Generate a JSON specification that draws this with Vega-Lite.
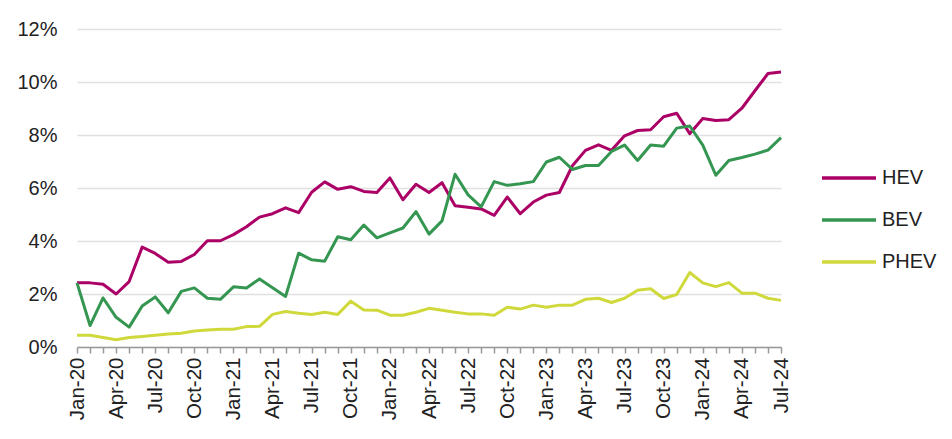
{
 "$schema": "https://vega.github.io/schema/vega-lite/v6.json",
 "width": 704,
 "height": 318,
 "autosize": "none",
 "padding": {"left": 77, "top": 29, "right": 171, "bottom": 92},
 "background": "white",
 "config": {"view": {"stroke": null}, "font": "Liberation Sans"},
 "datasets": {
  "shares": [
   {"m":"Jan-20","s":"HEV","v":2.42},{"m":"Feb-20","s":"HEV","v":2.42},{"m":"Mar-20","s":"HEV","v":2.37},{"m":"Apr-20","s":"HEV","v":2.0},{"m":"May-20","s":"HEV","v":2.47},{"m":"Jun-20","s":"HEV","v":3.77},{"m":"Jul-20","s":"HEV","v":3.53},{"m":"Aug-20","s":"HEV","v":3.2},{"m":"Sep-20","s":"HEV","v":3.23},{"m":"Oct-20","s":"HEV","v":3.49},{"m":"Nov-20","s":"HEV","v":4.01},{"m":"Dec-20","s":"HEV","v":4.01},
   {"m":"Jan-21","s":"HEV","v":4.24},{"m":"Feb-21","s":"HEV","v":4.54},{"m":"Mar-21","s":"HEV","v":4.9},{"m":"Apr-21","s":"HEV","v":5.03},{"m":"May-21","s":"HEV","v":5.25},{"m":"Jun-21","s":"HEV","v":5.07},{"m":"Jul-21","s":"HEV","v":5.84},{"m":"Aug-21","s":"HEV","v":6.23},{"m":"Sep-21","s":"HEV","v":5.95},{"m":"Oct-21","s":"HEV","v":6.05},{"m":"Nov-21","s":"HEV","v":5.87},{"m":"Dec-21","s":"HEV","v":5.83},
   {"m":"Jan-22","s":"HEV","v":6.38},{"m":"Feb-22","s":"HEV","v":5.56},{"m":"Mar-22","s":"HEV","v":6.14},{"m":"Apr-22","s":"HEV","v":5.83},{"m":"May-22","s":"HEV","v":6.2},{"m":"Jun-22","s":"HEV","v":5.33},{"m":"Jul-22","s":"HEV","v":5.27},{"m":"Aug-22","s":"HEV","v":5.21},{"m":"Sep-22","s":"HEV","v":4.97},{"m":"Oct-22","s":"HEV","v":5.66},{"m":"Nov-22","s":"HEV","v":5.03},{"m":"Dec-22","s":"HEV","v":5.47},
   {"m":"Jan-23","s":"HEV","v":5.73},{"m":"Feb-23","s":"HEV","v":5.83},{"m":"Mar-23","s":"HEV","v":6.84},{"m":"Apr-23","s":"HEV","v":7.42},{"m":"May-23","s":"HEV","v":7.63},{"m":"Jun-23","s":"HEV","v":7.42},{"m":"Jul-23","s":"HEV","v":7.97},{"m":"Aug-23","s":"HEV","v":8.17},{"m":"Sep-23","s":"HEV","v":8.2},{"m":"Oct-23","s":"HEV","v":8.69},{"m":"Nov-23","s":"HEV","v":8.82},{"m":"Dec-23","s":"HEV","v":8.05},
   {"m":"Jan-24","s":"HEV","v":8.62},{"m":"Feb-24","s":"HEV","v":8.55},{"m":"Mar-24","s":"HEV","v":8.58},{"m":"Apr-24","s":"HEV","v":9.01},{"m":"May-24","s":"HEV","v":9.67},{"m":"Jun-24","s":"HEV","v":10.32},{"m":"Jul-24","s":"HEV","v":10.38},

   {"m":"Jan-20","s":"BEV","v":2.42},{"m":"Feb-20","s":"BEV","v":0.81},{"m":"Mar-20","s":"BEV","v":1.85},{"m":"Apr-20","s":"BEV","v":1.12},{"m":"May-20","s":"BEV","v":0.75},{"m":"Jun-20","s":"BEV","v":1.55},{"m":"Jul-20","s":"BEV","v":1.89},{"m":"Aug-20","s":"BEV","v":1.29},{"m":"Sep-20","s":"BEV","v":2.1},{"m":"Oct-20","s":"BEV","v":2.23},{"m":"Nov-20","s":"BEV","v":1.84},{"m":"Dec-20","s":"BEV","v":1.8},
   {"m":"Jan-21","s":"BEV","v":2.27},{"m":"Feb-21","s":"BEV","v":2.23},{"m":"Mar-21","s":"BEV","v":2.57},{"m":"Apr-21","s":"BEV","v":2.24},{"m":"May-21","s":"BEV","v":1.91},{"m":"Jun-21","s":"BEV","v":3.54},{"m":"Jul-21","s":"BEV","v":3.29},{"m":"Aug-21","s":"BEV","v":3.24},{"m":"Sep-21","s":"BEV","v":4.16},{"m":"Oct-21","s":"BEV","v":4.05},{"m":"Nov-21","s":"BEV","v":4.6},{"m":"Dec-21","s":"BEV","v":4.12},
   {"m":"Jan-22","s":"BEV","v":4.31},{"m":"Feb-22","s":"BEV","v":4.49},{"m":"Mar-22","s":"BEV","v":5.11},{"m":"Apr-22","s":"BEV","v":4.26},{"m":"May-22","s":"BEV","v":4.76},{"m":"Jun-22","s":"BEV","v":6.52},{"m":"Jul-22","s":"BEV","v":5.74},{"m":"Aug-22","s":"BEV","v":5.29},{"m":"Sep-22","s":"BEV","v":6.24},{"m":"Oct-22","s":"BEV","v":6.1},{"m":"Nov-22","s":"BEV","v":6.16},{"m":"Dec-22","s":"BEV","v":6.24},
   {"m":"Jan-23","s":"BEV","v":6.98},{"m":"Feb-23","s":"BEV","v":7.16},{"m":"Mar-23","s":"BEV","v":6.7},{"m":"Apr-23","s":"BEV","v":6.85},{"m":"May-23","s":"BEV","v":6.85},{"m":"Jun-23","s":"BEV","v":7.38},{"m":"Jul-23","s":"BEV","v":7.62},{"m":"Aug-23","s":"BEV","v":7.04},{"m":"Sep-23","s":"BEV","v":7.62},{"m":"Oct-23","s":"BEV","v":7.58},{"m":"Nov-23","s":"BEV","v":8.26},{"m":"Dec-23","s":"BEV","v":8.34},
   {"m":"Jan-24","s":"BEV","v":7.62},{"m":"Feb-24","s":"BEV","v":6.48},{"m":"Mar-24","s":"BEV","v":7.04},{"m":"Apr-24","s":"BEV","v":7.15},{"m":"May-24","s":"BEV","v":7.28},{"m":"Jun-24","s":"BEV","v":7.43},{"m":"Jul-24","s":"BEV","v":7.9},

   {"m":"Jan-20","s":"PHEV","v":0.44},{"m":"Feb-20","s":"PHEV","v":0.44},{"m":"Mar-20","s":"PHEV","v":0.36},{"m":"Apr-20","s":"PHEV","v":0.27},{"m":"May-20","s":"PHEV","v":0.36},{"m":"Jun-20","s":"PHEV","v":0.4},{"m":"Jul-20","s":"PHEV","v":0.44},{"m":"Aug-20","s":"PHEV","v":0.49},{"m":"Sep-20","s":"PHEV","v":0.52},{"m":"Oct-20","s":"PHEV","v":0.6},{"m":"Nov-20","s":"PHEV","v":0.64},{"m":"Dec-20","s":"PHEV","v":0.67},
   {"m":"Jan-21","s":"PHEV","v":0.67},{"m":"Feb-21","s":"PHEV","v":0.77},{"m":"Mar-21","s":"PHEV","v":0.78},{"m":"Apr-21","s":"PHEV","v":1.23},{"m":"May-21","s":"PHEV","v":1.34},{"m":"Jun-21","s":"PHEV","v":1.27},{"m":"Jul-21","s":"PHEV","v":1.23},{"m":"Aug-21","s":"PHEV","v":1.31},{"m":"Sep-21","s":"PHEV","v":1.23},{"m":"Oct-21","s":"PHEV","v":1.73},{"m":"Nov-21","s":"PHEV","v":1.4},{"m":"Dec-21","s":"PHEV","v":1.39},
   {"m":"Jan-22","s":"PHEV","v":1.2},{"m":"Feb-22","s":"PHEV","v":1.2},{"m":"Mar-22","s":"PHEV","v":1.31},{"m":"Apr-22","s":"PHEV","v":1.46},{"m":"May-22","s":"PHEV","v":1.39},{"m":"Jun-22","s":"PHEV","v":1.31},{"m":"Jul-22","s":"PHEV","v":1.25},{"m":"Aug-22","s":"PHEV","v":1.25},{"m":"Sep-22","s":"PHEV","v":1.2},{"m":"Oct-22","s":"PHEV","v":1.5},{"m":"Nov-22","s":"PHEV","v":1.43},{"m":"Dec-22","s":"PHEV","v":1.58},
   {"m":"Jan-23","s":"PHEV","v":1.5},{"m":"Feb-23","s":"PHEV","v":1.58},{"m":"Mar-23","s":"PHEV","v":1.58},{"m":"Apr-23","s":"PHEV","v":1.8},{"m":"May-23","s":"PHEV","v":1.84},{"m":"Jun-23","s":"PHEV","v":1.68},{"m":"Jul-23","s":"PHEV","v":1.84},{"m":"Aug-23","s":"PHEV","v":2.14},{"m":"Sep-23","s":"PHEV","v":2.2},{"m":"Oct-23","s":"PHEV","v":1.83},{"m":"Nov-23","s":"PHEV","v":1.98},{"m":"Dec-23","s":"PHEV","v":2.81},
   {"m":"Jan-24","s":"PHEV","v":2.42},{"m":"Feb-24","s":"PHEV","v":2.28},{"m":"Mar-24","s":"PHEV","v":2.43},{"m":"Apr-24","s":"PHEV","v":2.03},{"m":"May-24","s":"PHEV","v":2.03},{"m":"Jun-24","s":"PHEV","v":1.84},{"m":"Jul-24","s":"PHEV","v":1.76}
  ]
 },
 "data": {"name": "shares"},
 "mark": {"type": "line", "strokeWidth": 3, "strokeJoin": "round"},
 "encoding": {
  "x": {
   "field": "m", "type": "ordinal", "sort": null,
   "scale": {"type": "point", "padding": 0},
   "axis": {
    "title": null, "labelAngle": -90, "labelAlign": "right", "labelBaseline": "middle",
    "labelExpr": "indexof(['Jan','Apr','Jul','Oct'], substring(datum.label, 0, 3)) >= 0 ? datum.label : ''",
    "labelFontSize": 20.5, "labelColor": "#222222", "labelPadding": 4, "labelOverlap": false,
    "tickSize": 6, "tickColor": "#9a9a9a", "domainColor": "#9a9a9a", "domainWidth": 1.5, "tickWidth": 1.5, "grid": false
   }
  },
  "y": {
   "field": "v", "type": "quantitative",
   "scale": {"domain": [0, 12]},
   "axis": {
    "title": null, "values": [0, 2, 4, 6, 8, 10, 12],
    "labelExpr": "datum.label + '%'",
    "labelFontSize": 20, "labelColor": "#222222", "labelPadding": 20,
    "domain": false, "ticks": false, "gridColor": "#e0e0e0", "gridWidth": 1.5
   }
  },
  "color": {
   "field": "s", "type": "nominal",
   "scale": {"domain": ["HEV", "BEV", "PHEV"], "range": ["#AB0066", "#349651", "#D0D93C"]},
   "legend": {
    "title": null, "orient": "none", "legendX": 743, "legendY": 120,
    "symbolType": "stroke", "symbolSize": 2916, "symbolStrokeWidth": 3.5,
    "labelFontSize": 20, "labelColor": "#222222", "labelOffset": 4, "rowPadding": 3
   }
  }
 }
}
